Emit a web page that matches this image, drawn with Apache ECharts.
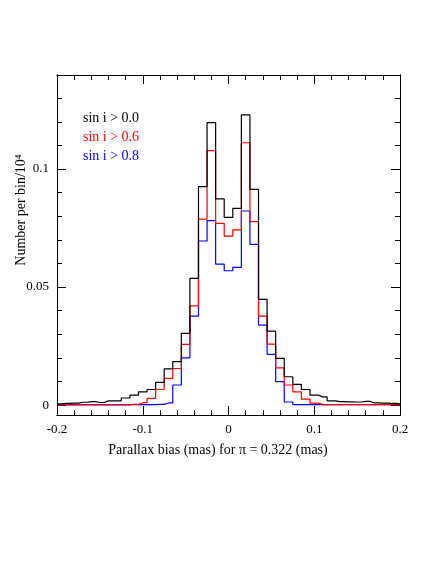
<!DOCTYPE html>
<html><head><meta charset="utf-8">
<script src="https://cdn.jsdelivr.net/npm/echarts@6/dist/echarts.min.js"></script>
<style>html,body{margin:0;padding:0;background:#fff}#c{width:436px;height:564px}</style>
</head><body><div id="c"></div>
<script>
// bin centres -0.20 ... 0.20 step 0.01
var centers = [];
for (var k = -20; k <= 20; k++) centers.push(+(k / 100).toFixed(2));

var all = [0.0005,0.0007,0.0008,0.0012,0.0015,0.0011,0.0018,0.0018,0.003,0.0042,0.0056,0.0066,0.0096,0.0153,0.0184,0.0304,0.0537,0.0925,0.1196,0.0873,
  0.0795,
  0.0833,0.1229,0.0914,0.0448,0.0313,0.0198,0.012,0.0088,0.0066,0.0042,0.0035,0.0018,0.0015,0.0014,0.0013,0.0016,0.0009,0.0008,0.0007,0.0005];
var s06 = [0.0001,0.0001,0.0001,0.0001,0.0001,0.0001,0.0001,0.0001,0.0001,0.0003,0.001,0.0028,0.0066,0.0113,0.0155,0.0257,0.042,0.0788,0.1078,0.077,
  0.0716,
  0.0742,0.1111,0.0777,0.0377,0.0258,0.0158,0.0085,0.0056,0.0025,0.0008,0.0002,0.0002,0.0002,0.0002,0.0002,0.0002,0.0002,0.0002,0.0002,0.0002];
var s08 = [0.0002,0.0002,0.0002,0.0002,0.0002,0.0002,0.0002,0.0002,0.0002,0.0002,0.0002,0.0002,0.0003,0.0009,0.0085,0.02,0.0377,0.0695,0.0781,0.0597,
  0.0569,
  0.0583,0.0822,0.0681,0.0339,0.0215,0.0099,0.0013,0.0002,0.0002,0.0002,0.0002,0.0002,0.0002,0.0002,0.0002,0.0002,0.0002,0.0002,0.0002,0.0002];
var xMajor = [-0.2, -0.1, 0, 0.1, 0.2];
var xMinor = [];
for (var i = -10; i <= 10; i++) xMinor.push(+(i * 0.02).toFixed(2));
var yMajor = [0, 0.05, 0.1];
var yMinor = [];
for (var j = 0; j <= 13; j++) yMinor.push(+(j * 0.01).toFixed(2));

var font = 'Liberation Serif';
var ymin = -0.0042, ymax = 0.1398;

function pair(x) { return centers.map(function (c, i) { return [c, x[i]]; }); }

function xa(pos, vals, len, lab) {
  return {type: 'value', min: -0.2, max: 0.2, position: pos,
    axisLine: {show: true, onZero: false, lineStyle: {color: '#000', width: 1}},
    axisTick: {show: true, inside: true, length: len, customValues: vals, lineStyle: {color: '#000'}},
    axisLabel: {show: lab, customValues: xMajor, color: '#000', fontFamily: font, fontSize: 13, margin: 8},
    splitLine: {show: false}};
}
function ya(pos, vals, len, lab) {
  return {type: 'value', min: ymin, max: ymax, position: pos,
    axisLine: {show: true, onZero: false, lineStyle: {color: '#000', width: 1}},
    axisTick: {show: true, inside: true, length: len, customValues: vals, lineStyle: {color: '#000'}},
    axisLabel: {show: lab, customValues: yMajor, color: '#000', fontFamily: font, fontSize: 13, margin: 8},
    splitLine: {show: false}};
}
function ser(d, col) {
  return {type: 'line', step: 'middle', data: pair(d), showSymbol: false, symbol: 'none',
    lineStyle: {color: col, width: 1.2}, xAxisIndex: 0, yAxisIndex: 0, animation: false, z: col === '#000' ? 3 : 2};
}

var chart = echarts.init(document.getElementById('c'));
chart.setOption({
  backgroundColor: '#fff',
  animation: false,
  grid: {left: 57, right: 36, top: 75, bottom: 149},
  xAxis: [xa('bottom', xMajor, 9, true), xa('bottom', xMinor, 5, false), xa('top', xMajor, 9, false), xa('top', xMinor, 5, false)],
  yAxis: [ya('left', yMajor, 9, true), ya('left', yMinor, 5, false), ya('right', yMajor, 9, false), ya('right', yMinor, 5, false)],
  series: [ser(s08, '#0000ff'), ser(s06, '#ff0000'), ser(all, '#000')],
  graphic: [
    {type: 'text', left: 83, top: 111, style: {text: 'sin i > 0.0', fill: '#000', font: '14px ' + font}},
    {type: 'text', left: 83, top: 130, style: {text: 'sin i > 0.6', fill: '#ff0000', font: '14px ' + font}},
    {type: 'text', left: 83, top: 149, style: {text: 'sin i > 0.8', fill: '#0000ff', font: '14px ' + font}},
    {type: 'text', left: 'center', top: 443, style: {text: 'Parallax bias (mas) for π = 0.322 (mas)', fill: '#000', font: '14px ' + font}},
    {type: 'text', x: 14, y: 210, rotation: Math.PI / 2,
      style: {text: 'Number per bin/10⁴', fill: '#000', font: '14px ' + font, align: 'center', verticalAlign: 'top'}}
  ]
});
</script></body></html>
